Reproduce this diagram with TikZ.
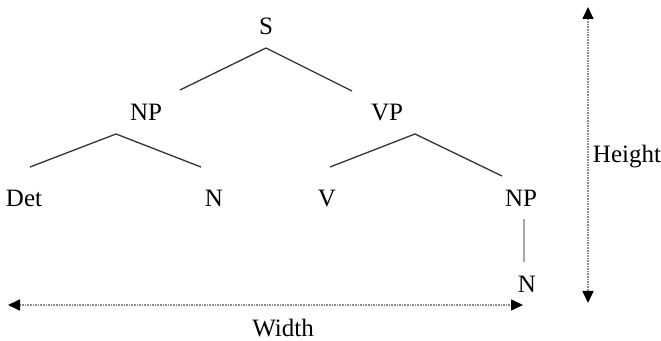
\documentclass[tikz,border=0pt]{standalone}
\usepackage{fontspec}
\setmainfont{Liberation Serif}
\usetikzlibrary{arrows.meta, positioning}
\usepackage{xcolor}

\begin{document}
\begin{tikzpicture}[
x=1pt, y=1pt,
word/.style={inner sep=0pt, 
anchor=base, 
font=\fontsize{25}{29}\selectfont},
branch/.style={draw=black!80, line width=1.3pt},
stem/.style={draw=black!35, line width=1.8pt},
measure/.style={{Triangle[length=12pt, width=11pt, color=black]}-{Triangle[length=12pt, width=11pt, color=black]}, 
draw=black!45, line width=1.6pt, densely dotted}
]
\useasboundingbox (0,0) rectangle (661,340);

\node[word] (s) at (266,305) {S};
\node[word] (np) at (146,219) {NP};
\node[word] (vp) at (387,219) {VP};
\node[word] (det) at (24,133) {Det};
\node[word] (n) at (214,133) {N};
\node[word] (v) at (327,133) {V};
\node[word] (np2) at (521,133) {NP};
\node[word] (n2) at (527,48) {N};
\node[word] (width) at (283,4) {Width};
\node[word] (height) at (627,177) {Height};

\draw[branch] ([yshift=-13pt]s.base) -- ([shift={(34pt,31pt)}]np.base);
\draw[branch] ([yshift=-13pt]s.base) -- ([shift={(-35pt,30pt)}]vp.base);
\draw[branch] ([shift={(-30pt,-13pt)}]np.base) -- ([shift={(6pt,40pt)}]det.base);
\draw[branch] ([shift={(-30pt,-13pt)}]np.base) -- ([shift={(-13pt,40pt)}]n.base);
\draw[branch] ([shift={(28pt,-13pt)}]vp.base) -- ([shift={(3pt,40pt)}]v.base);
\draw[branch] ([shift={(28pt,-13pt)}]vp.base) -- ([shift={(-19pt,31pt)}]np2.base);
\draw[stem] ([shift={(3pt,-12pt)}]np2.base) -- ([shift={(-3pt,30pt)}]n2.base);

% dimension arrows
\coordinate (wl) at (8,35);
\coordinate (wr) at (523,35);
\coordinate (ht) at (588,333);
\coordinate (hb) at (588,37);
\draw[measure] (wl) -- (wr);
\draw[measure] (ht) -- (hb);

\end{tikzpicture}
\end{document}
